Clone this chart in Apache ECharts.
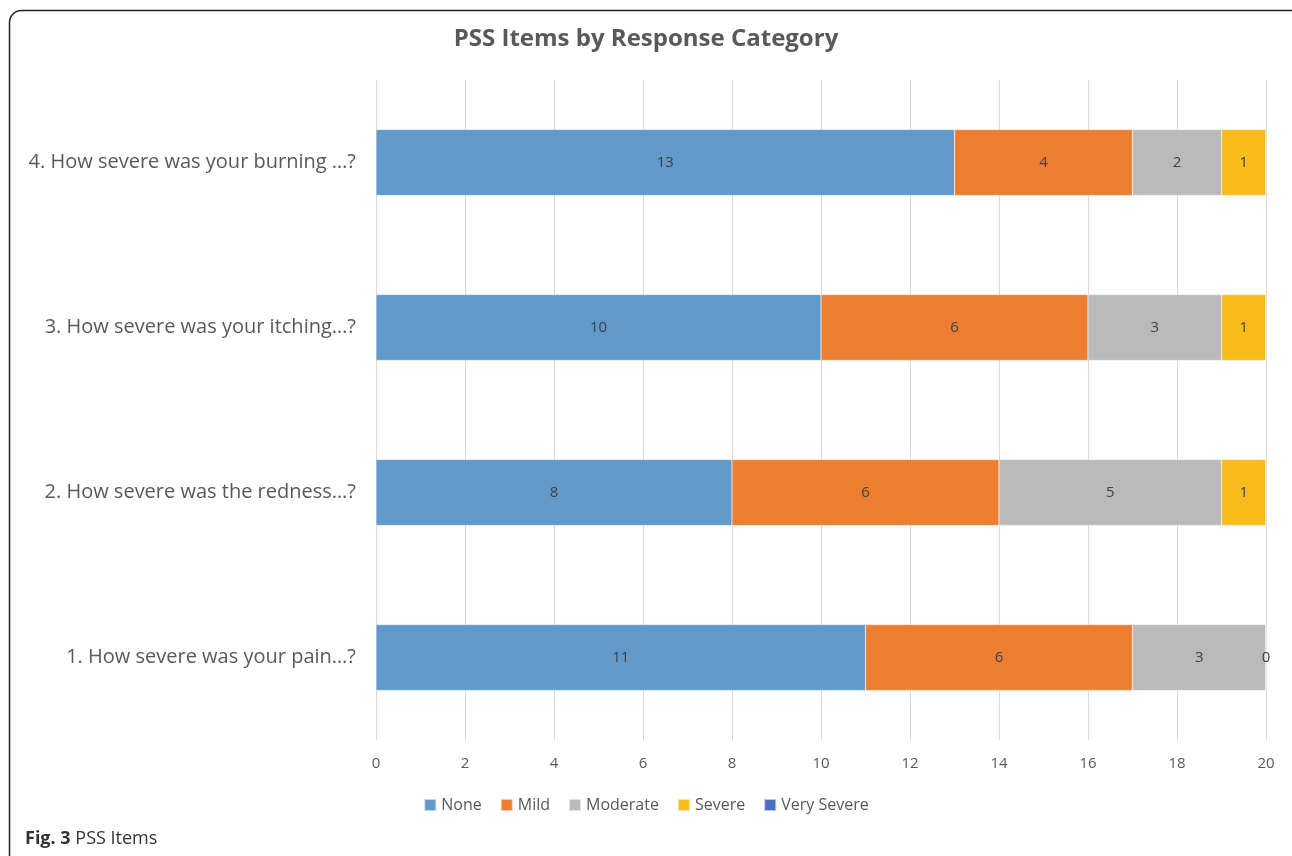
<!DOCTYPE html>
<html>
<head>
<meta charset="utf-8">
<script src="https://cdn.jsdelivr.net/npm/echarts@6/dist/echarts.min.js"></script>
<style>
html,body{margin:0;padding:0;background:#fff;}
#main{width:1292px;height:856px;}
</style>
</head>
<body>
<div id="main"></div>
<script>
const categories = [
  "1. How severe was your pain…?",
  "2. How severe was the redness…?",
  "3. How severe was your itching…?",
  "4. How severe was your burning …?"
];
const seriesNames = ["None", "Mild", "Moderate", "Severe", "Very Severe"];
const noneVals = [11, 8, 10, 13];
const mildVals = [6, 6, 6, 4];
const moderateVals = [3, 5, 3, 2];
const severeVals = [0, 1, 1, 1];
const verySevereVals = [0, 0, 0, 0];
const xTicks = [0, 2, 4, 6, 8, 10, 12, 14, 16, 18, 20];

const colors = ["#6199CB", "#ED7E31", "#BABABA", "#F8BD1C", "#4670C0"];
const allVals = [noneVals, mildVals, moderateVals, severeVals, verySevereVals];
const FONT = '"Open Sans", "Liberation Sans", sans-serif';

const chart = echarts.init(document.getElementById('main'));
const series = seriesNames.map((name, i) => ({
  name: name,
  type: 'bar',
  stack: 'total',
  barWidth: '40%',
  data: allVals[i],
  itemStyle: { color: colors[i], borderColor: 'rgba(255,255,255,0.6)', borderWidth: 0.5 },
  label: {
    show: i < 4,
    position: 'inside',
    color: '#404040',
    fontSize: 15,
    fontFamily: FONT,
    formatter: p => String(p.value)
  },
  emphasis: { disabled: true }
}));

chart.setOption({
  animation: false,
  backgroundColor: '#fff',
  title: [{
    text: 'PSS Items by Response Category',
    left: 'center',
    top: 22,
    textStyle: { color: '#595959', fontSize: 24, fontWeight: 'bold', fontFamily: FONT }
  }, {
    text: '{b|Fig. 3} PSS Items',
    left: 25,
    top: 830,
    padding: 0,
    textStyle: {
      color: '#333', fontSize: 18, fontFamily: FONT, fontWeight: 'normal',
      rich: { b: { fontWeight: 'bold', fontSize: 18, color: '#333', fontFamily: FONT } }
    }
  }],
  legend: {
    data: seriesNames,
    bottom: 38,
    left: 'center',
    itemWidth: 12,
    itemHeight: 12,
    itemGap: 18,
    icon: 'rect',
    textStyle: { color: '#595959', fontSize: 16, fontFamily: FONT }
  },
  grid: { left: 376, right: 26, top: 80, bottom: 116, containLabel: false },
  xAxis: {
    type: 'value',
    min: 0,
    max: 20,
    interval: 2,
    axisLine: { show: false },
    axisTick: { show: false },
    splitLine: { show: true, lineStyle: { color: '#D9D9D9', width: 1 } },
    axisLabel: { color: '#595959', fontSize: 15, margin: 16, fontFamily: FONT,
      formatter: v => xTicks.includes(v) ? String(v) : '' }
  },
  yAxis: {
    type: 'category',
    data: categories,
    axisLine: { show: false },
    axisTick: { show: false },
    splitLine: { show: false },
    axisLabel: { color: '#595959', fontSize: 20, margin: 20, fontFamily: FONT }
  },
  graphic: [{
    type: 'rect',
    shape: { x: 9.5, y: 10.5, width: 1300, height: 860, r: 12 },
    style: { fill: 'none', stroke: '#222', lineWidth: 1.5 },
    z: 100
  }],
  series: series
});
</script>
</body>
</html>
